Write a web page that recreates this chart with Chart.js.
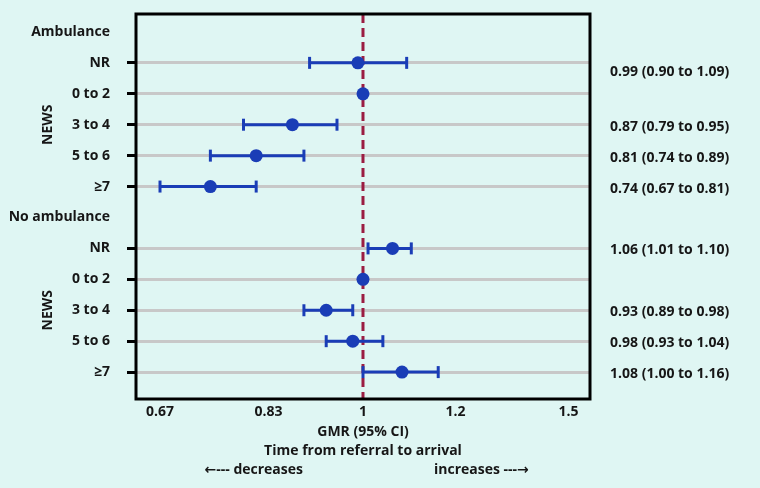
<!DOCTYPE html>
<html>
<head>
<meta charset="utf-8">
<script src="https://cdn.jsdelivr.net/npm/chart.js@4/dist/chart.umd.min.js"></script>
<style>
  html, body { margin: 0; padding: 0; background: #dff6f3; }
  #wrap { width: 760px; height: 488px; }
</style>
</head>
<body>
<div id="wrap"><canvas id="forest" width="760" height="488"></canvas></div>
<script>
// groups and NEWS bands
var groups = ['Ambulance', 'No ambulance'];
var newsBands = ['NR', '0 to 2', '3 to 4', '5 to 6', '\u22657'];

// GMR (95% CI), reference band 0 to 2 has no interval
var gmrAmb = [0.99, 1, 0.87, 0.81, 0.74];
var lowerAmb = [0.90, null, 0.79, 0.74, 0.67];
var upperAmb = [1.09, null, 0.95, 0.89, 0.81];

var gmrNoAmb = [1.06, 1, 0.93, 0.98, 1.08];
var lowerNoAmb = [1.01, null, 0.89, 0.93, 1.00];
var upperNoAmb = [1.10, null, 0.98, 1.04, 1.16];

var xTicks = [0.67, 0.83, 1, 1.2, 1.5];

var blue = '#1a3db6';
var ink = '#161616';
var fontFam = '"Open Sans", "DejaVu Sans", sans-serif';
var fontSize = 14;

var gmr = [gmrAmb, gmrNoAmb];
var lower = [lowerAmb, lowerNoAmb];
var upper = [upperAmb, upperNoAmb];

// row index: header of group, then its bands
function rowOf(g, i) { return g * (newsBands.length + 1) + 1 + i; }
var rowLabels = [];
var headerRows = [];
groups.forEach(function(name, g){
    headerRows.push(rowLabels.length);
    rowLabels.push(name);
    newsBands.forEach(function(b){ rowLabels.push(b); });
});

var points = [];
var ciSets = [];
var sideText = [];
groups.forEach(function(name, g){
    newsBands.forEach(function(b, i){
        var y = rowOf(g, i);
        points.push({x: gmr[g][i], y: y});
        if (lower[g][i] != null) {
            ciSets.push({
                data: [{x: lower[g][i], y: y}, {x: upper[g][i], y: y}],
                showLine: true,
                borderColor: blue,
                borderWidth: 3,
                pointStyle: 'line',
                rotation: 90,
                pointRadius: 6,
                pointBorderWidth: 3,
                pointBorderColor: blue,
                order: 1
            });
            sideText.push({y: y, text: gmr[g][i].toFixed(2) + ' (' + lower[g][i].toFixed(2) + ' to ' + upper[g][i].toFixed(2) + ')'});
        }
    });
});

var forestDecor = {
    id: 'forestDecor',
    beforeDatasetsDraw: function(chart){
        var ctx = chart.ctx, a = chart.chartArea;
        var x1 = chart.scales.x.getPixelForValue(1);
        ctx.save();
        ctx.strokeStyle = '#9b1d42';
        ctx.lineWidth = 3;
        ctx.setLineDash([9, 5]);
        ctx.beginPath();
        ctx.moveTo(x1, a.top);
        ctx.lineTo(x1, a.bottom);
        ctx.stroke();
        ctx.restore();
    },
    afterDraw: function(chart){
        var ctx = chart.ctx, a = chart.chartArea, ys = chart.scales.y;
        ctx.save();
        ctx.strokeStyle = '#000';
        ctx.lineWidth = 3;
        ctx.strokeRect(a.left, a.top, a.right - a.left, a.bottom - a.top);

        ctx.fillStyle = ink;
        ctx.font = 'bold ' + fontSize + 'px ' + fontFam;
        ctx.textBaseline = 'middle';
        ctx.textAlign = 'left';
        sideText.forEach(function(t, k){
            // the first estimate sits a little lower in the original
            var dy = k === 0 ? 9 : 2;
            ctx.fillText(t.text, 610, ys.getPixelForValue(t.y) + dy);
        });

        // NEWS group labels
        ctx.textAlign = 'center';
        groups.forEach(function(name, g){
            var yc = ys.getPixelForValue(rowOf(g, 2));
            ctx.save();
            ctx.translate(48, yc);
            ctx.rotate(-Math.PI / 2);
            ctx.fillText('NEWS', 0, 0);
            ctx.restore();
        });

        var cx = (a.left + a.right) / 2;
        ctx.fillText('GMR (95% CI)', cx, 432);
        ctx.fillText('Time from referral to arrival', cx, 451);
        ctx.textAlign = 'right';
        ctx.fillText('\u2190--- decreases', 303, 470);
        ctx.textAlign = 'left';
        ctx.fillText('increases ---\u2192', 434, 470);
        ctx.restore();
    }
};

var ctx = document.getElementById('forest').getContext('2d');
var chart = new Chart(ctx, {
    type: 'scatter',
    data: {
        datasets: [{
            data: points,
            pointRadius: 6.5,
            pointBackgroundColor: blue,
            pointBorderWidth: 0,
            order: 0
        }].concat(ciSets)
    },
    options: {
        responsive: false,
        animation: false,
        events: [],
        layout: { padding: { left: 0, right: 170, top: 14, bottom: 0 } },
        plugins: { legend: { display: false }, tooltip: { enabled: false } },
        scales: {
            x: {
                type: 'logarithmic',
                bounds: 'data',
                min: 0.639,
                max: 1.565,
                afterFit: function(s){ s.height = 89; },
                afterBuildTicks: function(s){
                    s.ticks = xTicks.map(function(v){ return {value: v}; });
                },
                grid: { display: false, drawTicks: false },
                border: { display: false },
                ticks: {
                    padding: 5,
                    color: ink,
                    font: { family: fontFam, size: fontSize, weight: 'bold' },
                    callback: function(v){ return String(v); }
                }
            },
            y: {
                type: 'linear',
                reverse: true,
                min: -0.58,
                max: 11.87,
                afterFit: function(s){
                    s.width = 136;
                    s.paddingTop = 0;
                    s.paddingBottom = 0;
                },
                afterBuildTicks: function(s){
                    s.ticks = rowLabels.map(function(l, i){ return {value: i}; });
                },
                border: { display: false },
                grid: {
                    lineWidth: 3,
                    tickLength: 9,
                    color: function(c){
                        return headerRows.indexOf(c.tick.value) >= 0 ? 'rgba(0,0,0,0)' : '#c8c8c8';
                    },
                    tickColor: function(c){
                        return headerRows.indexOf(c.tick.value) >= 0 ? 'rgba(0,0,0,0)' : '#000';
                    }
                },
                ticks: {
                    padding: 17,
                    color: ink,
                    font: { family: fontFam, size: fontSize, weight: 'bold' },
                    callback: function(v){ return rowLabels[v]; }
                }
            }
        }
    },
    plugins: [forestDecor]
});
</script>
</body>
</html>
